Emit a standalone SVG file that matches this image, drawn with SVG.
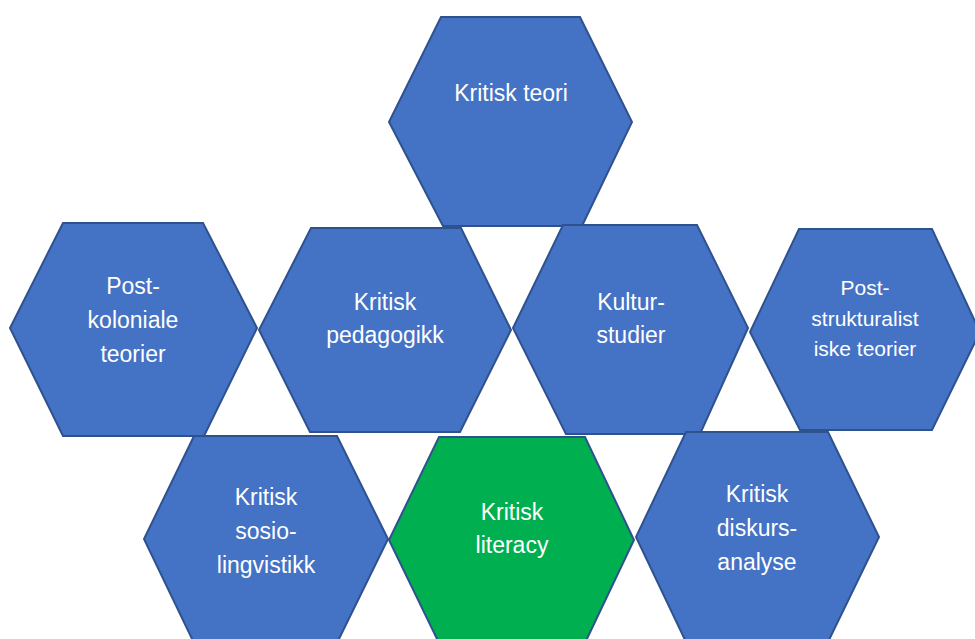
<svg xmlns="http://www.w3.org/2000/svg" width="975" height="639" viewBox="0 0 975 639">
<style>
.hex{fill:#4472C4;stroke:#2F528F;stroke-width:2;stroke-linejoin:miter}
.green{fill:#00B050}
.t{font-family:"Liberation Sans",Arial,sans-serif;font-size:23px;fill:#FFFFFF;text-anchor:middle}
.s{font-size:21px}
</style>
<rect width="975" height="639" fill="#FFFFFF"/>
<g id="connectors"></g>
<g id="kritisk-teori">
<polygon class="hex" points="441,17 580,17 632,122 582,226 443,226 389,122"/>
<text class="t" x="511" y="101">Kritisk teori</text>
</g>
<g id="postkoloniale">
<polygon class="hex" points="63,223 203,223 257,328 204,436 63,436 10,328"/>
<text class="t" x="133" y="294">Post-</text>
<text class="t" x="133" y="328">koloniale</text>
<text class="t" x="133" y="362">teorier</text>
</g>
<g id="kritisk-pedagogikk">
<polygon class="hex" points="311,228 461,228 511,330 460,432 310,432 259,330"/>
<text class="t" x="385" y="310">Kritisk</text>
<text class="t" x="385" y="343">pedagogikk</text>
</g>
<g id="kulturstudier">
<polygon class="hex" points="563,225 697,225 748,328 700,434 566,434 513,328"/>
<text class="t" x="631" y="310">Kultur-</text>
<text class="t" x="631" y="343">studier</text>
</g>
<g id="poststrukturalistiske">
<polygon class="hex" points="799,229 932,229 980,332 932,430 800,430 750,332"/>
<text class="t s" x="865" y="295">Post-</text>
<text class="t s" x="865" y="326">strukturalist</text>
<text class="t s" x="865" y="356">iske teorier</text>
</g>
<g id="kritisk-sosiolingvistikk">
<polygon class="hex" points="194,436 337,436 388,539 337,643 194,643 144,539"/>
<text class="t" x="266" y="505">Kritisk</text>
<text class="t" x="266" y="539">sosio-</text>
<text class="t" x="266" y="573">lingvistikk</text>
</g>
<g id="kritisk-literacy">
<polygon class="hex green" points="439,437 585,437 634,540 585,643 439,643 389,540"/>
<text class="t" x="512" y="520">Kritisk</text>
<text class="t" x="512" y="553">literacy</text>
</g>
<g id="kritisk-diskursanalyse">
<polygon class="hex" points="686,432 828,432 879,537 828,642 686,642 636,537"/>
<text class="t" x="757" y="502">Kritisk</text>
<text class="t" x="757" y="536">diskurs-</text>
<text class="t" x="757" y="570">analyse</text>
</g>
</svg>
